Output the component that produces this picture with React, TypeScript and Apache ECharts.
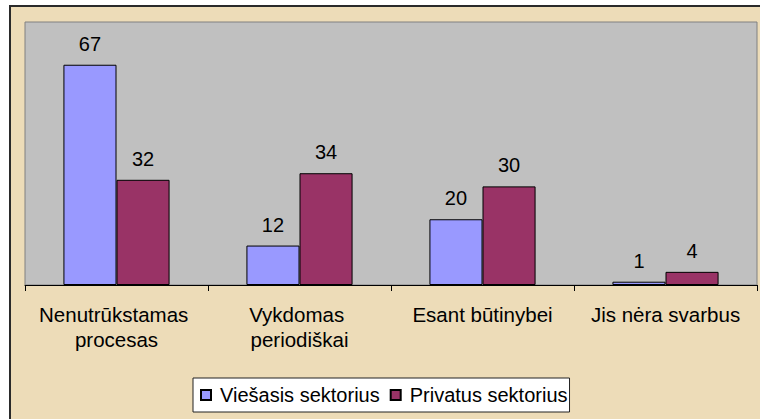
import React, { useEffect, useRef } from "react";
import * as echarts from "echarts";

const categories = [
  "Nenutrūkstamas procesas",
  "Vykdomas periodiškai",
  "Esant būtinybei",
  "Jis nėra svarbus",
];
const publicSector = [67, 12, 20, 1];
const privateSector = [32, 34, 30, 4];
const seriesNames = ["Viešasis sektorius", "Privatus sektorius"];

const FONT = "Arial, 'Liberation Sans', sans-serif";

export default function App() {
  const ref = useRef<HTMLDivElement>(null);
  useEffect(() => {
    document.body.style.margin = "0";
    if (!ref.current) return;
    const chart = echarts.init(ref.current, undefined, { renderer: "svg" });
    const labelCfg = {
      show: true,
      position: "top",
      distance: 11,
      color: "#000",
      fontSize: 20,
      fontFamily: FONT,
    };
    chart.setOption({
      animation: false,
      backgroundColor: "#ffffff",
      graphic: [
        {
          type: "rect",
          z: -10,
          silent: true,
          shape: { x: 10, y: 6, width: 800, height: 500 },
          style: { fill: "#eddcb8", stroke: "#2a2a2a", lineWidth: 2 },
        },
      ],
      grid: {
        left: 25,
        top: 22,
        right: 3,
        bottom: 134,
        show: true,
        backgroundColor: "#c0c0c0",
        borderColor: "#808080",
        borderWidth: 1,
      },
      legend: {
        left: 193,
        top: 378,
        orient: "horizontal",
        selectedMode: false,
        backgroundColor: "#ffffff",
        borderColor: "#222",
        borderWidth: 1,
        padding: [7, 2, 7, 7],
        itemWidth: 10,
        itemHeight: 10,
        itemGap: 10,
        icon: "rect",
        textStyle: {
          fontSize: 20,
          fontFamily: FONT,
          color: "#000",
          padding: [0, 6, 0, 4],
        },
        data: seriesNames,
      },
      xAxis: {
        type: "category",
        data: categories,
        boundaryGap: true,
        axisLine: { show: true, lineStyle: { color: "#000", width: 1 } },
        axisTick: { show: true, length: 6, lineStyle: { color: "#000" } },
        axisLabel: {
          interval: 0,
          margin: 17,
          fontSize: 20.5,
          lineHeight: 25,
          fontFamily: FONT,
          color: "#000",
          width: 175,
          overflow: "break",
        },
      },
      yAxis: {
        type: "value",
        min: 0,
        max: 80,
        show: false,
        splitLine: { show: false },
      },
      series: [
        {
          name: seriesNames[0],
          type: "bar",
          data: publicSector,
          barGap: "0%",
          barCategoryGap: "42%",
          itemStyle: { color: "#9999ff", borderColor: "#000", borderWidth: 1 },
          label: labelCfg,
        },
        {
          name: seriesNames[1],
          type: "bar",
          data: privateSector,
          barGap: "0%",
          barCategoryGap: "42%",
          itemStyle: { color: "#993366", borderColor: "#000", borderWidth: 1 },
          label: labelCfg,
        },
      ],
    });
    return () => chart.dispose();
  }, []);
  return <div ref={ref} style={{ width: 760, height: 419 }} />;
}
